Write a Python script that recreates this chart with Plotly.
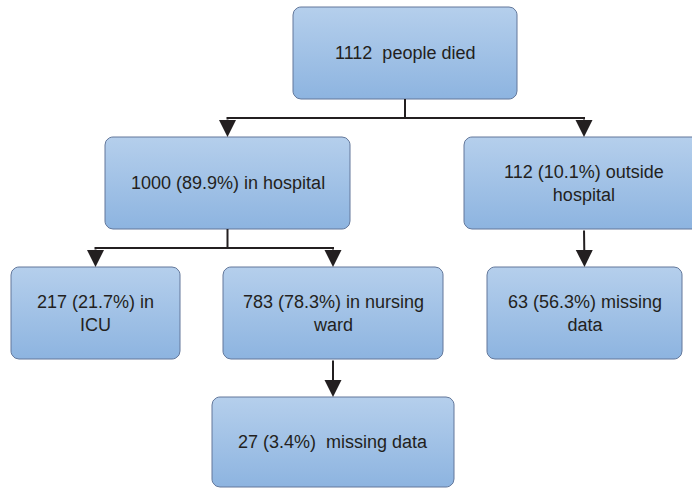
import numpy as np
import plotly.graph_objects as go

# ---- data ----
node_ids = ["died", "hospital", "outside", "icu", "nursing", "out_missing", "nurse_missing"]
node_counts = [1112, 1000, 112, 217, 783, 63, 27]
node_pcts = [None, 89.9, 10.1, 21.7, 78.3, 56.3, 3.4]
node_labels = [
    "1112\u00a0 people died",
    "1000 (89.9%) in hospital",
    "112 (10.1%) outside<br>hospital",
    "217 (21.7%) in<br>ICU",
    "783 (78.3%) in nursing<br>ward",
    "63 (56.3%) missing<br>data",
    "27 (3.4%)\u00a0 missing data",
]
edges = [("died", "hospital"), ("died", "outside"),
         ("hospital", "icu"), ("hospital", "nursing"),
         ("outside", "out_missing"), ("nursing", "nurse_missing")]

# ---- layout geometry (pixel space of the canvas) ----
W, H = 692, 488
box_geom = {
    "died": (293, 7, 517, 99),
    "hospital": (105, 137, 350, 229),
    "outside": (464, 137, 704, 229),
    "icu": (11, 267, 180, 359),
    "nursing": (223, 267, 443, 359),
    "out_missing": (487, 267, 682, 359),
    "nurse_missing": (212, 397, 454, 487),
}
RADIUS = 8
TOP_COLOR = "#b5cfec"
BOT_COLOR = "#8db4e0"
EDGE_COLOR = "#62779a"
LINE_COLOR = "#231f20"
TEXT_COLOR = "#231f20"
FONT = "Liberation Sans, Arial, sans-serif"


def rounded_rect(x0, y0, x1, y1, r, n=8):
    xs, ys = [], []
    corners = [
        (x1 - r, y0 + r, -np.pi / 2, 0),
        (x1 - r, y1 - r, 0, np.pi / 2),
        (x0 + r, y1 - r, np.pi / 2, np.pi),
        (x0 + r, y0 + r, np.pi, 3 * np.pi / 2),
    ]
    for cx, cy, a0, a1 in corners:
        t = np.linspace(a0, a1, n)
        xs.extend(cx + r * np.cos(t))
        ys.extend(cy + r * np.sin(t))
    xs.append(xs[0])
    ys.append(ys[0])
    return xs, ys


fig = go.Figure()

for nid in node_ids:
    x0, y0, x1, y1 = box_geom[nid]
    xs, ys = rounded_rect(x0, y0, x1, y1, RADIUS)
    fig.add_trace(go.Scatter(
        x=xs, y=ys, mode="lines", fill="toself",
        line=dict(color=EDGE_COLOR, width=1),
        fillgradient=dict(type="vertical",
                          colorscale=[[0, TOP_COLOR], [1, BOT_COLOR]],
                          start=y0, stop=y1),
        hoverinfo="skip", showlegend=False,
    ))

annotations = []
for nid, lab in zip(node_ids, node_labels):
    x0, y0, x1, y1 = box_geom[nid]
    annotations.append(dict(
        x=(x0 + x1) / 2, y=(y0 + y1) / 2, xref="x", yref="y",
        text=lab, showarrow=False,
        font=dict(family=FONT, size=18, color=TEXT_COLOR),
        align="center",
    ))

shapes = []
children = {}
for p, c in edges:
    children.setdefault(p, []).append(c)

ARROW = dict(showarrow=True, arrowhead=2, arrowsize=1.7, arrowwidth=2,
             arrowcolor=LINE_COLOR, text="",
             xref="x", yref="y", axref="x", ayref="y")

for p, kids in children.items():
    px0, py0, px1, py1 = box_geom[p]
    pcx = (px0 + px1) / 2
    child_top = min(box_geom[k][1] for k in kids)
    kid_x = [(box_geom[k][0] + box_geom[k][2]) / 2 for k in kids]
    if len(kids) == 1:
        annotations.append(dict(x=kid_x[0], y=child_top, ax=pcx, ay=py1, **ARROW))
    else:
        mid = (py1 + child_top) / 2
        shapes.append(dict(type="line", x0=pcx, y0=py1, x1=pcx, y1=mid,
                           xref="x", yref="y",
                           line=dict(color=LINE_COLOR, width=2)))
        shapes.append(dict(type="line", x0=min(kid_x) - 1, y0=mid,
                           x1=max(kid_x) + 1, y1=mid, xref="x", yref="y",
                           line=dict(color=LINE_COLOR, width=2)))
        for kx in kid_x:
            annotations.append(dict(x=kx, y=child_top, ax=kx, ay=mid, **ARROW))

fig.update_layout(
    width=W, height=H,
    margin=dict(l=0, r=0, t=0, b=0),
    paper_bgcolor="white", plot_bgcolor="white",
    xaxis=dict(range=[0, W], visible=False, fixedrange=True),
    yaxis=dict(range=[H, 0], visible=False, fixedrange=True),
    shapes=shapes, annotations=annotations,
    showlegend=False,
)

fig.write_html(
    "out.html",
    config={"displayModeBar": False},
    post_script="document.body.style.margin='0px';document.body.style.overflow='hidden';",
)
